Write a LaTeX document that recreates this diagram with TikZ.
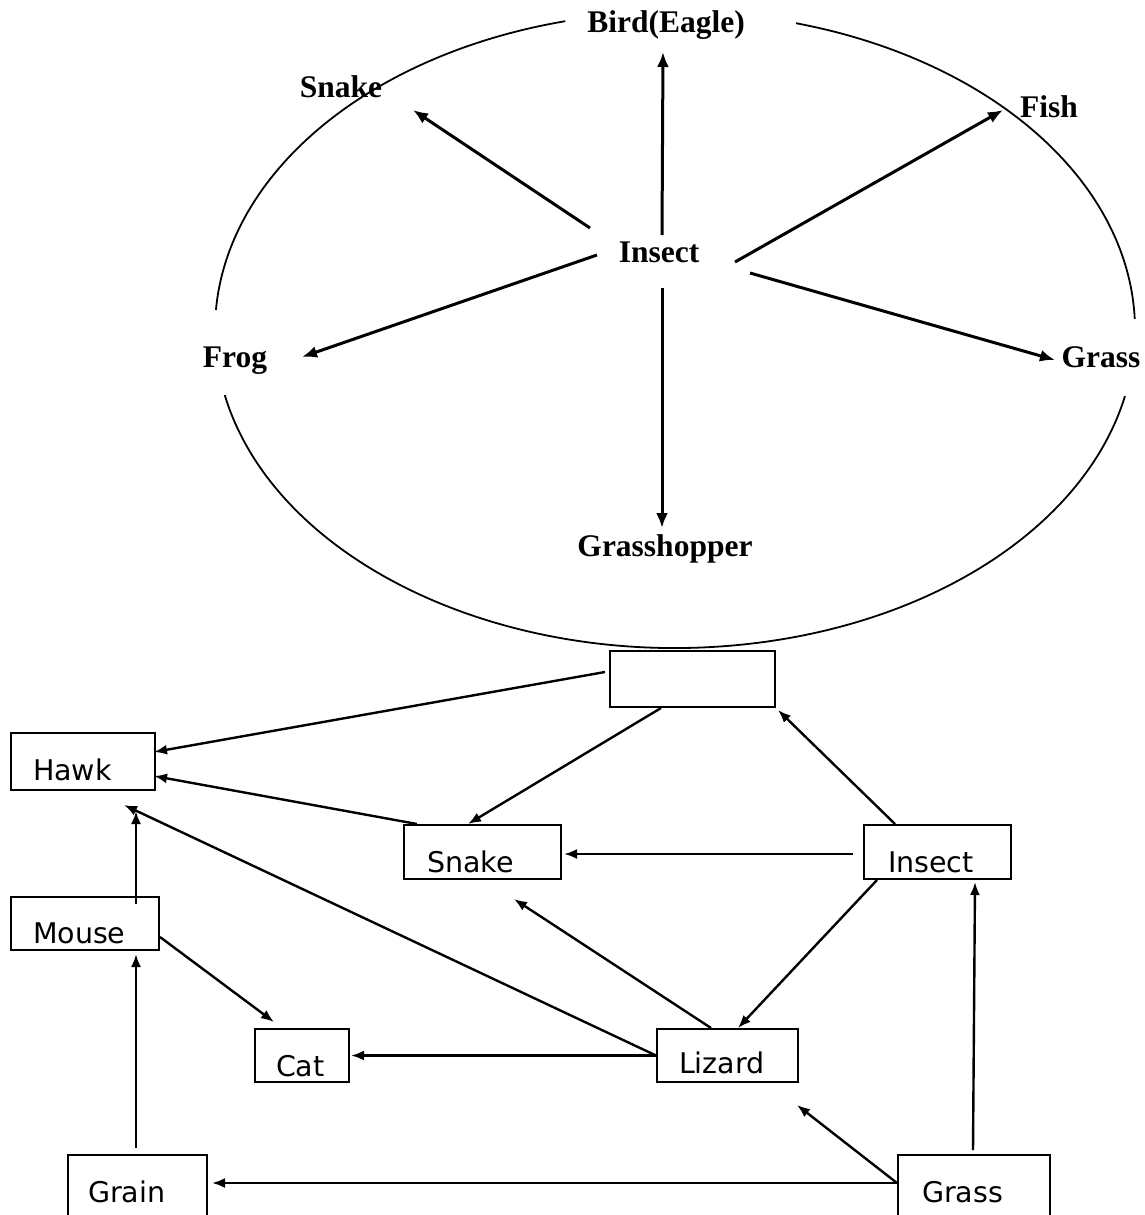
\documentclass[tikz,border=0pt]{standalone}
\usepackage{fontspec}
\setmainfont{Liberation Serif}
\newfontfamily\boxfont{DejaVu Sans}
\usetikzlibrary{calc,arrows.meta}
\begin{document}
\begin{tikzpicture}[x=1pt,y=-1pt,
  toplabel/.style={font=\fontsize{31.5}{36}\selectfont\bfseries, inner sep=0pt, anchor=base},
  box/.style={draw, line width=2pt, rectangle, anchor=north west, inner ysep=0pt, align=left, font=\fontsize{28.5}{33}\selectfont\boxfont},
  toparrow/.style={line width=3pt, -{Latex[length=15pt,width=12pt]}},
  arr/.style={line width=2.4pt, -{Latex[length=13pt,width=10pt]}},
  ell/.style={line width=1.8pt}]
\clip (0,0) rectangle (1145,1215);
\fill[white] (0,0) rectangle (1145,1215);
% ellipse, drawn in arcs with gaps at the labels
\draw[ell] (675,330) ++(103.8:460pt and 318pt) arc[start angle=103.8,end angle=176.4,x radius=460pt,y radius=318pt];
\draw[ell] (675,330) ++(191.8:460pt and 318pt) arc[start angle=191.8,end angle=348,x radius=460pt,y radius=318pt];
\draw[ell] (675,330) ++(2:460pt and 318pt) arc[start angle=2,end angle=74.75,x radius=460pt,y radius=318pt];
% top labels
\node[toplabel] (bird) at (666,33) {Bird(Eagle)};
\node[toplabel] (tsnake) at (341,97) {Snake};
\node[toplabel] (fish) at (1049,117) {Fish};
\node[toplabel] (ins) at (659,262) {Insect};
\node[toplabel] (frog) at (235,367) {Frog};
\node[toplabel] (tgrass) at (1101,367) {Grass};
\node[toplabel] (hopper) at (665,556) {Grasshopper};
% top arrows
\draw[toparrow] ($(ins.base)+(3,-27)$) -- ($(bird.base)+(-3,19)$);
\draw[toparrow] ($(ins.base)+(-69,-34)$) -- ($(tsnake.base)+(72,13)$);
\draw[toparrow] ($(ins.base)+(76,0)$) -- ($(fish.base)+(-46,-7)$);
\draw[toparrow] ($(ins.base)+(-62,-7)$) -- ($(frog.base)+(67,-10)$);
\draw[toparrow] ($(ins.base)+(91,11)$) -- ($(tgrass.base)+(-46,-7)$);
\draw[toparrow] ($(ins.base)+(3,26)$) -- ($(hopper.base)+(-3,-28)$);
% boxes
\node[box, minimum width=165pt, minimum height=56pt] (top) at (609,650) {};
\node[box, minimum width=144pt, minimum height=57pt, inner xsep=22pt, text width=100pt, text height=37pt, text depth=0pt] (hawk) at (10,732) {Hawk};
\node[box, minimum width=157pt, minimum height=54pt, inner xsep=23pt, text width=111pt, text height=40pt, text depth=0pt] (snake) at (403,824) {Snake};
\node[box, minimum width=147pt, minimum height=54pt, inner xsep=24pt, text width=99pt, text height=40pt, text depth=0pt] (insect) at (863,824) {Insect};
\node[box, minimum width=148pt, minimum height=53pt, inner xsep=22pt, text width=104pt, text height=39pt, text depth=0pt] (mouse) at (10,896) {Mouse};
\node[box, minimum width=94pt, minimum height=53pt, inner xsep=21pt, text width=52pt, text height=41pt, text depth=0pt] (cat) at (254,1028) {Cat};
\node[box, minimum width=141pt, minimum height=53pt, inner xsep=22pt, text width=97pt, text height=35pt, text depth=0pt] (lizard) at (656,1028) {Lizard};
\node[box, minimum width=139pt, minimum height=100pt, inner xsep=20pt, text width=99pt, text height=20pt, text depth=26pt] (grain) at (67,1154) {Grain};
\node[box, minimum width=152pt, minimum height=100pt, inner xsep=24pt, text width=104pt, text height=20pt, text depth=26pt] (grass) at (897,1154) {Grass};
% bottom arrows
\draw[arr] ($(top.north west)+(-4,22)$) -- ($(hawk.north east)+(-2,20)$);
\draw[arr] ($(top.south west)+(52,0)$) -- ($(snake.north west)+(65,0)$);
\draw[arr] ($(insect.north west)+(32,0)$) -- ($(top.south east)+(2,2)$);
\draw[arr] ($(snake.north west)+(14,0)$) -- ($(hawk.north east)+(-2,44)$);
\draw[arr] (lizard.west) -- ($(hawk.south west)+(114,14)$);
\draw[arr] ($(mouse.north west)+(126,8)$) -- ($(hawk.south west)+(126,20)$);
\draw[arr] ($(insect.west)+(-10,2)$) -- ($(snake.east)+(2,2)$);
\draw[arr] ($(insect.south west)+(14,0)$) -- ($(lizard.north west)+(82,0)$);
\draw[arr] ($(lizard.north west)+(55,0)$) -- ($(snake.south west)+(111,19)$);
\draw[arr] ($(mouse.north east)+(0,41)$) -- ($(cat.north west)+(20,-6)$);
\draw[arr] (lizard.west) -- ($(cat.east)+(1,0)$);
\draw[arr] ($(grain.north west)+(69,-6)$) -- ($(mouse.south west)+(126,3)$);
\draw[arr] ($(grass.north west)+(0,29)$) -- ($(grain.north east)+(4,29)$);
\draw[arr] ($(grass.north west)+(0,29)$) -- ($(lizard.south east)+(-2,22)$);
\draw[arr] ($(grass.north west)+(76,-4)$) -- ($(insect.south west)+(112,2)$);
\end{tikzpicture}
\end{document}
